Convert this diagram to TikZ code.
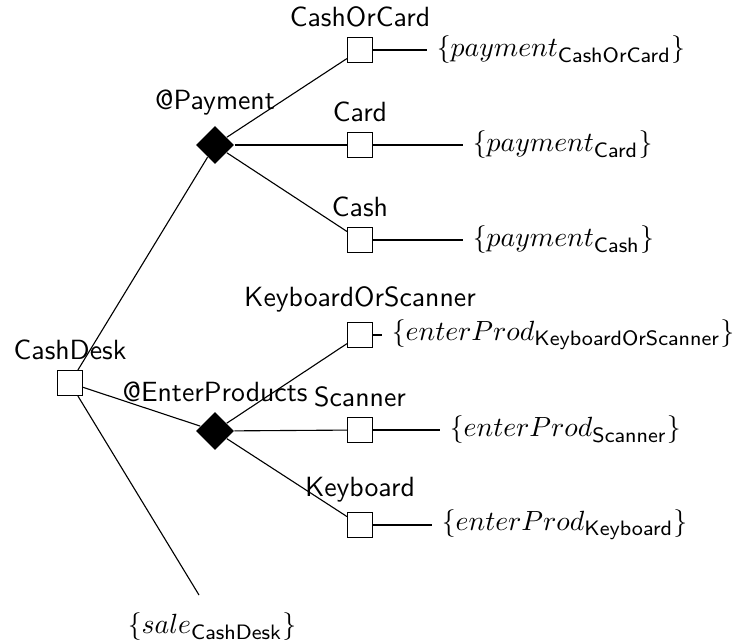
\documentclass[tikz,border=0pt]{standalone}
\usetikzlibrary{shapes.geometric}
\newcommand{\subsf}[1]{\mbox{\fontsize{7.5}{9}\selectfont\sffamily #1}}
\begin{document}
\begin{tikzpicture}[x=0.36pt,y=-0.36pt,
  box/.style={draw,fill=white,rectangle,minimum size=9pt,inner sep=0pt},
  gate/.style={diamond,fill=black,minimum size=13.7pt,inner sep=0pt},
  lbl/.style={font=\sffamily},
  ann/.style={anchor=west,inner sep=3.33pt}]
\useasboundingbox (0,0) rectangle (739,641);
% root
\node[box,label={[lbl]above:CashDesk}] (cd) at (70,383) {};
% gates
\node[gate,label={[lbl]above:@Payment}] (pay) at (215,145) {};
\node[gate,label={[lbl]above:@EnterProducts}] (ent) at (215,431) {};
% children of Payment
\node[box,label={[lbl]above:CashOrCard}] (coc) at (360,50) {};
\node[box,label={[lbl]above:Card}] (card) at (360,145) {};
\node[box,label={[lbl]above:Cash}] (cash) at (360,240) {};
% children of EnterProducts
\node[box,label={[lbl]above:KeyboardOrScanner}] (kos) at (360,335) {};
\node[box,label={[lbl]above:Scanner}] (scan) at (360,430) {};
\node[box,label={[lbl]above:Keyboard}] (kb) at (360,525) {};
% annotations
\node[ann] (acoc) at (427,50) {$\{payment_{\subsf{CashOrCard}}\}$};
\node[ann] (acard) at (463,145) {$\{payment_{\subsf{Card}}\}$};
\node[ann] (acash) at (463,240) {$\{payment_{\subsf{Cash}}\}$};
\node[ann] (akos) at (382,335) {$\{enterProd_{\subsf{KeyboardOrScanner}}\}$};
\node[ann] (ascan) at (440,430) {$\{enterProd_{\subsf{Scanner}}\}$};
\node[ann] (akb) at (432,525) {$\{enterProd_{\subsf{Keyboard}}\}$};
\node (sale) at (212,627) {$\{sale_{\subsf{CashDesk}}\}$};
\coordinate (saleend) at (199,595);
% connectors
\draw (cd) -- (pay);
\draw (cd) -- (ent);
\draw (cd) -- (saleend);
\draw (pay) -- (coc);
\draw (pay) -- (card);
\draw (pay) -- (cash);
\draw (ent) -- (kos);
\draw (ent) -- (scan);
\draw (ent) -- (kb);
\draw (coc) -- (acoc.west);
\draw (card) -- (acard.west);
\draw (cash) -- (acash.west);
\draw (kos) -- (akos.west);
\draw (scan) -- (ascan.west);
\draw (kb) -- (akb.west);
% redraw boxes above lines
\foreach \n in {cd,coc,card,cash,kos,scan,kb} {\node[box] at (\n) {};}
\end{tikzpicture}
\end{document}
